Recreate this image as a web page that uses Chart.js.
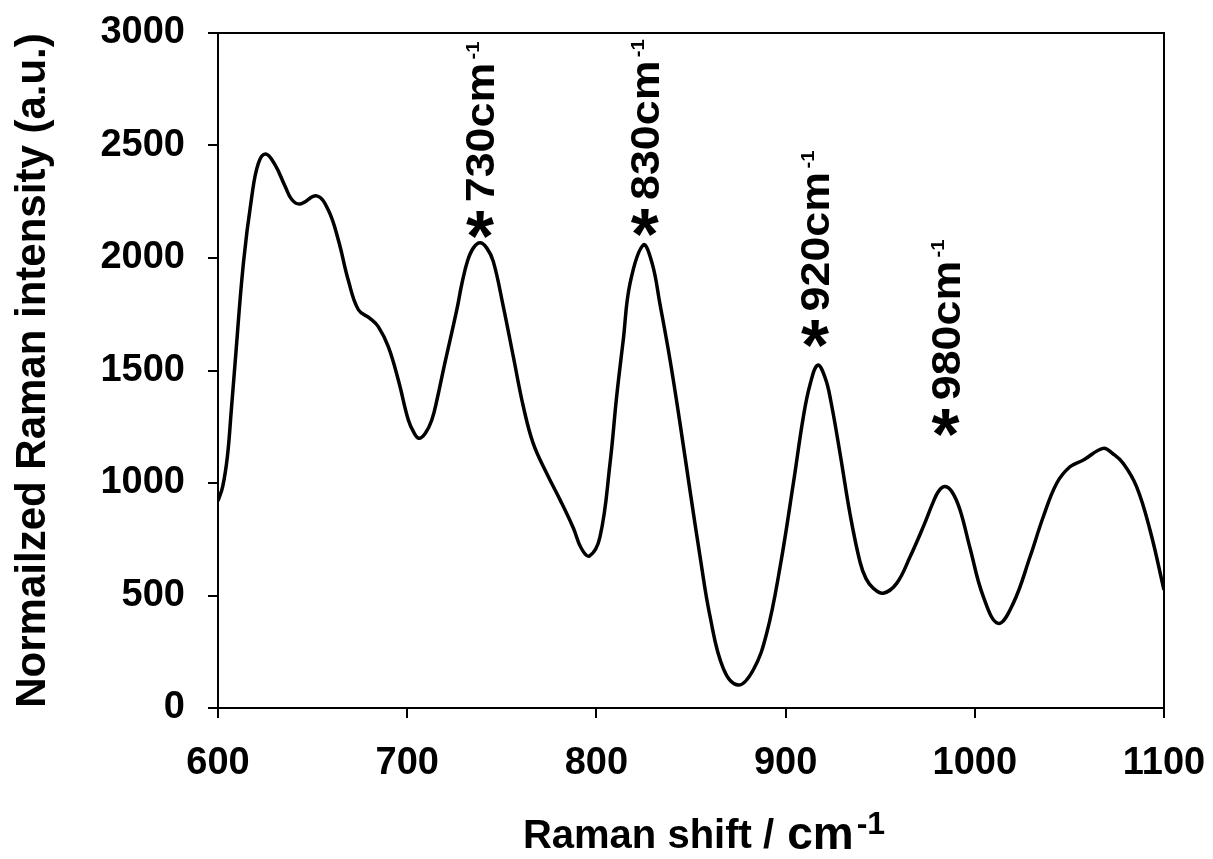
<!DOCTYPE html>
<html><head><meta charset="utf-8">
<style>html,body{margin:0;padding:0;background:#fff}#wrap{width:1213px;height:859px}</style>
<script src="https://cdn.jsdelivr.net/npm/chart.js@4.4.1/dist/chart.umd.min.js"></script>
</head><body><div id="wrap"><canvas id="c" width="1213" height="859"></canvas></div>
<script>
const wavenumbers = [600, 602.5, 605, 607, 609, 613.4, 617.8, 621.3, 625.2, 630.1, 635.4, 639, 643.3, 652.2, 658.3, 663.6, 668.9, 674.2, 680.3, 684.7, 690, 695.3, 700.6, 703.5, 706.2, 709.5, 713, 716, 719.1, 726.2, 729, 732, 735, 738.5, 742, 745.5, 750.8, 756.1, 761.4, 766.6, 773.7, 780.8, 787.8, 792, 796.3, 801.9, 807.2, 810.7, 814.2, 817.8, 824.8, 829.5, 833.6, 838.9, 844.2, 849.5, 854.8, 860, 867.1, 875, 882.9, 890, 897.1, 904.1, 909.4, 913, 917, 921, 924, 928.8, 934.1, 939.3, 942.5, 946.4, 951.6, 958.7, 965.8, 972.8, 978, 981, 984.3, 988, 992.2, 997.5, 1004.5, 1012.4, 1020.3, 1029.2, 1036.2, 1043.3, 1050.3, 1057.4, 1067.9, 1073, 1078.5, 1085.5, 1092.6, 1100];
const intensities = [920, 985, 1120, 1320, 1530, 1975, 2270, 2420, 2462, 2415, 2320, 2260, 2240, 2276, 2213, 2080, 1900, 1770, 1732, 1695, 1606, 1458, 1280, 1225, 1199, 1220, 1280, 1380, 1502, 1769, 1890, 1990, 2045, 2068, 2045, 1985, 1784, 1561, 1339, 1176, 1043, 925, 800, 710, 676, 761, 1087, 1384, 1636, 1888, 2058, 1975, 1795, 1548, 1265, 965, 672, 410, 175, 102, 169, 332, 628, 999, 1295, 1440, 1524, 1465, 1360, 1130, 860, 650, 575, 532, 510, 554, 672, 806, 915, 965, 984, 960, 880, 710, 495, 376, 465, 672, 850, 999, 1072, 1102, 1154, 1130, 1087, 984, 791, 525];
const xTicks = [600, 700, 800, 900, 1000, 1100];
const yTicks = [0, 500, 1000, 1500, 2000, 2500, 3000];
const peakLabels = ['730', '830', '920', '980'];
const peakShift = [738.5, 825.5, 915.5, 984.5];
const peakLevel = [2150, 2160, 1665, 1270];
const yTitle = 'Normailzed Raman intensity (a.u.)';
const xTitleMain = 'Raman shift / ';
const xTitleUnit = 'cm';
const unitSup = '-1';

const FAM = "'Liberation Sans', Arial, sans-serif";

const framePlugin = {
  id: 'frame',
  afterDraw(chart) {
    const {ctx, chartArea: a} = chart;
    ctx.save();
    ctx.strokeStyle = '#000';
    ctx.lineWidth = 2;
    ctx.beginPath();
    ctx.moveTo(a.left, a.top);
    ctx.lineTo(a.right, a.top);
    ctx.lineTo(a.right, a.bottom);
    ctx.stroke();
    ctx.restore();
  }
};

const textPlugin = {
  id: 'texts',
  afterDraw(chart) {
    const {ctx, chartArea: a} = chart;
    const xs = chart.scales.x, ys = chart.scales.y;
    ctx.save();
    ctx.fillStyle = '#000';
    ctx.textBaseline = 'alphabetic';
    ctx.textAlign = 'left';
    ctx.font = 'bold 40px ' + FAM;
    const w1 = ctx.measureText(xTitleMain).width;
    ctx.font = 'bold 46px ' + FAM;
    const w2 = ctx.measureText(xTitleUnit).width;
    ctx.font = 'bold 32px ' + FAM;
    const w3 = ctx.measureText(unitSup).width;
    const total = w1 + w2 + 3 + w3;
    let sx = (a.left + a.right) / 2 + 12 - total / 2;
    const base = a.bottom + 140;
    ctx.font = 'bold 40px ' + FAM;
    ctx.fillText(xTitleMain, sx, base);
    sx += w1 + 2;
    ctx.font = 'bold 46px ' + FAM;
    ctx.fillText(xTitleUnit, sx, base + 1);
    sx += w2 + 3;
    ctx.font = 'bold 32px ' + FAM;
    ctx.fillText(unitSup, sx, base - 14);

    for (let i = 0; i < peakLabels.length; i++) {
      const px = xs.getPixelForValue(peakShift[i]);
      const py = ys.getPixelForValue(peakLevel[i]);
      ctx.font = 'bold 72px ' + FAM;
      const m = ctx.measureText('*');
      ctx.textAlign = 'center';
      ctx.textBaseline = 'alphabetic';
      ctx.fillText('*', px, py + m.actualBoundingBoxAscent - (m.actualBoundingBoxAscent + m.actualBoundingBoxDescent) / 2);
      ctx.save();
      ctx.translate(px, py - 22);
      ctx.rotate(-Math.PI / 2);
      ctx.scale(1.12, 1);
      ctx.textAlign = 'left';
      ctx.font = 'bold 40px ' + FAM;
      const txt = peakLabels[i] + 'cm';
      ctx.fillText(txt, 0, 14.3);
      const tw = ctx.measureText(txt).width;
      ctx.font = 'bold 18px ' + FAM;
      ctx.fillText(unitSup, tw + 3, -1);
      ctx.restore();
    }
    ctx.restore();
  }
};

new Chart(document.getElementById('c'), {
  type: 'line',
  data: {
    datasets: [{
      data: wavenumbers.map((x, i) => ({x: x, y: intensities[i]})),
      borderColor: '#000',
      borderWidth: 3.5,
      pointRadius: 0,
      fill: false,
      tension: 0.4
    }]
  },
  options: {
    responsive: false,
    animation: false,
    layout: {padding: {top: 33, right: 49, left: 0, bottom: 0}},
    plugins: {legend: {display: false}, tooltip: {enabled: false}},
    scales: {
      x: {
        type: 'linear', min: 600, max: 1100,
        afterBuildTicks: s => { s.ticks = xTicks.map(v => ({value: v})); },
        afterFit: s => { s.height = 151; s.paddingLeft = 0; s.paddingRight = 0; },
        border: {display: true, color: '#000', width: 2},
        grid: {drawOnChartArea: false, drawTicks: true, tickLength: 10, color: '#000', lineWidth: 2},
        ticks: {color: '#000', font: {family: FAM, size: 38, weight: 'bold'}, padding: 23, maxRotation: 0, autoSkip: false, callback: v => String(v)}
      },
      y: {
        type: 'linear', min: 0, max: 3000,
        afterBuildTicks: s => { s.ticks = yTicks.map(v => ({value: v})); },
        afterFit: s => { s.width = 218; s.paddingTop = 0; s.paddingBottom = 0; },
        border: {display: true, color: '#000', width: 2},
        grid: {drawOnChartArea: false, drawTicks: true, tickLength: 10, color: '#000', lineWidth: 2},
        ticks: {color: '#000', font: {family: FAM, size: 38, weight: 'bold'}, padding: 23, autoSkip: false, callback: v => String(v)},
        title: {display: true, text: yTitle, color: '#000', font: {family: FAM, size: 42, weight: 'bold'}, padding: {top: 8, bottom: 0}}
      }
    }
  },
  plugins: [framePlugin, textPlugin]
});
</script>
</body></html>
